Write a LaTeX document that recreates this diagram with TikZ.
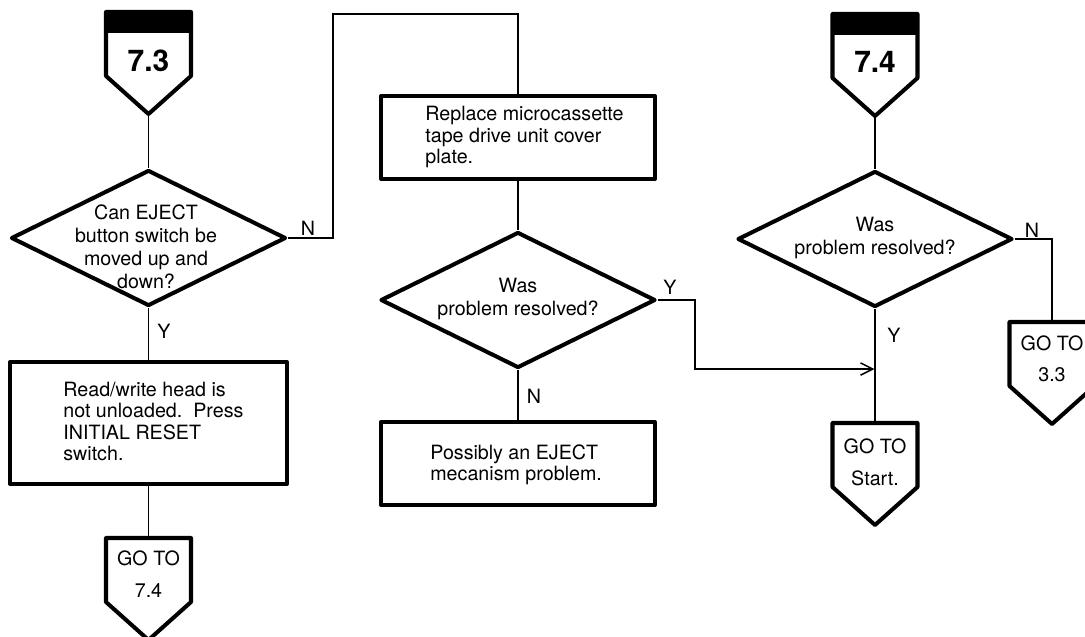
\documentclass[tikz,border=0pt]{standalone}
\usepackage{fontspec}
\setmainfont{TeX Gyre Heros}
\usetikzlibrary{shapes.geometric,arrows.meta}
\begin{document}
\begin{tikzpicture}[x=0.02cm,y=-0.02cm,
  thickln/.style={line width=2.3pt,line join=round},
  conn/.style={line width=0.85pt},
  dia/.style={diamond,draw,thickln,inner sep=0pt,minimum width=5.5cm,minimum height=2.72cm},
  boxn/.style={rectangle,draw,thickln,inner sep=0pt,minimum width=5.48cm},
  txt/.style={inner sep=0pt,font=\fontsize{11.2}{12.2}\selectfont},
  btxt/.style={txt,anchor=west,align=left},
  dtxt/.style={txt,align=center,font=\fontsize{11.2}{13.2}\selectfont},
  lbl/.style={txt},
  gtxt/.style={txt},
  ptxt/.style={inner sep=0pt,font=\fontsize{17}{17}\selectfont\bfseries},
  gopage/.pic={
    \draw[thickln,fill=white] (-42.5,0) -- (42.5,0) -- (42.5,64) -- (0,102) -- (-42.5,64) -- cycle;
    \coordinate (-top) at (0,0);
    \coordinate (-tip) at (0,102);
  },
  pagein/.pic={
    \draw[thickln,fill=white] (-42.5,0) -- (42.5,0) -- (42.5,64) -- (0,102) -- (-42.5,64) -- cycle;
    \fill (-42.5,0) rectangle (42.5,21);
    \coordinate (-top) at (0,0);
    \coordinate (-tip) at (0,102);
  }
]
\useasboundingbox (0,0) rectangle (1085,636);

% entry connectors
\pic (c73) at (148.5,12) {pagein};
\node[ptxt] (t73) at (148.5,61) {7.3};
\pic (c74) at (875,14) {pagein};
\node[ptxt] (t74) at (875,62) {7.4};

% diamonds
\node[dia] (d1) at (148.5,238) {};
\node[dtxt] (d1t) at (146,247) {Can EJECT\\button switch be\\moved up and\\down?};
\node[dia] (d2) at (518,300) {};
\node[dtxt] (d2t) at (518,299) {Was\\problem resolved?};
\node[dia] (d3) at (875,239) {};
\node[dtxt] (d3t) at (875,238) {Was\\problem resolved?};

% boxes
\node[boxn,minimum height=1.66cm] (b1) at (518,137.5) {};
\node[btxt] (b1t) at (425,137) {Replace microcassette\\tape drive unit cover\\plate.};
\node[boxn,minimum height=2.44cm,minimum width=5.54cm] (b3) at (148.5,423) {};
\node[btxt] (b3t) at (63,421.5) {Read/write head is\\not unloaded.\ \ Press\\INITIAL RESET\\switch.};
\node[boxn,minimum height=1.66cm] (b2) at (518,463.5) {};
\node[btxt] (b2t) at (430,465) {Possibly an EJECT\\mecanism problem.};

% exit connectors
\pic (g74) at (148.5,538) {gopage};
\node[gtxt] (g74a) at (148.5,558) {GO TO};
\node[gtxt] (g74b) at (148.5,591) {7.4};
\pic (gs) at (875,423) {gopage};
\node[gtxt] (gsa) at (875,446) {GO TO};
\node[gtxt] (gsb) at (875,478) {Start.};
\pic (g33) at (1052,322) {gopage};
\node[gtxt] (g33a) at (1052,343) {GO TO};
\node[gtxt] (g33b) at (1052,375) {3.3};

% connectors
\draw[conn] (c73-tip) -- (d1.north);
\draw[conn] (d1.east) -- (333,238) -- (333,14) -- (518,14) -- (b1.north);
\draw[conn] (b1.south) -- (d2.north);
\draw[conn] (d2.south) -- (b2.north);
\draw[conn] (d1.south) -- (b3.north);
\draw[conn] (b3.south) -- (g74-top);
\draw[conn] (c74-tip) -- (d3.north);
\draw[conn] (d3.south) -- (gs-top);
\draw[conn] (d3.east) -- (1052,239) -- (g33-top);
\coordinate (m) at (874.5,369);
\draw[conn,-{Straight Barb[length=7pt,width=7pt]}] (d2.east) -- (695,300) -- (695,369) -- (m);

% labels
\node[lbl] (ln1) at (308,228) {N};
\node[lbl] (ly1) at (164,331) {Y};
\node[lbl] (ly2) at (670,287) {Y};
\node[lbl] (ln2) at (534,396) {N};
\node[lbl] (ln3) at (1032,230) {N};
\node[lbl] (ly3) at (894,335) {Y};
\end{tikzpicture}
\end{document}
